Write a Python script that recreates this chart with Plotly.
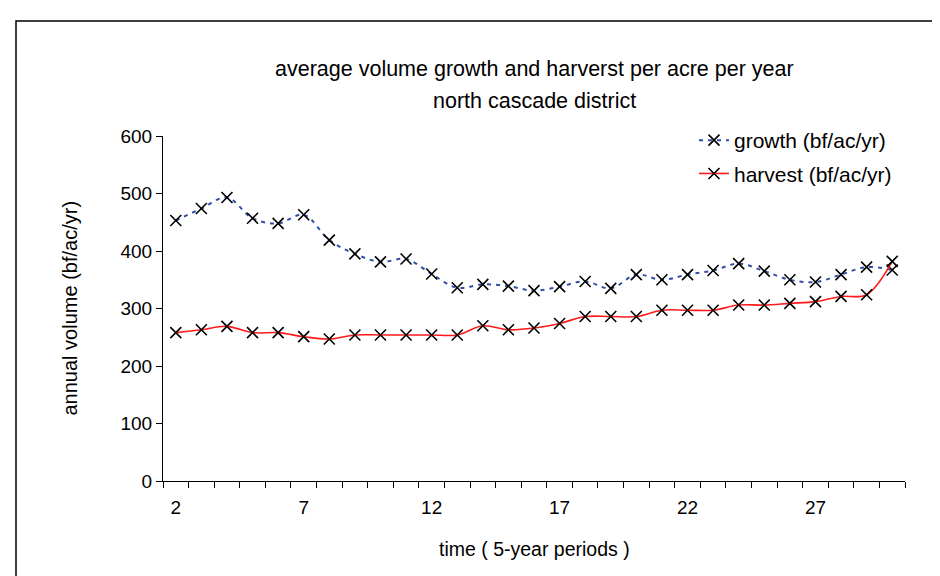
import plotly.graph_objects as go

periods = list(range(2, 31))
growth = [453, 474, 493, 457, 448, 463, 419, 395, 381, 386, 360, 336, 342, 339, 331,
          338, 347, 335, 359, 350, 359, 366, 378, 365, 350, 346, 359, 372, 367]
harvest = [258, 263, 269, 258, 258, 251, 247, 254, 254, 254, 254, 254, 270, 263, 266,
           274, 286, 286, 286, 297, 297, 297, 306, 306, 309, 312, 321, 324, 382]
x_tick_labels = [2, 7, 12, 17, 22, 27]
y_ticks = [0, 100, 200, 300, 400, 500, 600]

FONT = "Liberation Sans, Arial, sans-serif"
W, H = 940, 576
L, R, T, B = 155, 43, 128, 103
PW, PH = W - L - R, H - T - B


def px(xp):
    return (xp - L) / PW


def py(yp):
    return (H - B - yp) / PH


fig = go.Figure()
fig.add_trace(go.Scatter(
    x=periods, y=growth, name="growth (bf/ac/yr)", mode="lines+markers",
    line=dict(color="#2F4EA5", width=2, dash="4px,5px", shape="spline"),
    marker=dict(symbol="x-thin", size=11, color="black", line=dict(color="black", width=1.6)),
    legendgroup="g",
))
fig.add_trace(go.Scatter(
    x=periods, y=harvest, name="harvest (bf/ac/yr)", mode="lines+markers",
    line=dict(color="#FF1A1A", width=1.6, shape="spline"),
    marker=dict(symbol="x-thin", size=11, color="black", line=dict(color="black", width=1.6)),
    legendgroup="h",
))

fig.update_layout(
    width=W, height=H,
    margin=dict(l=L, r=R, t=T, b=B),
    paper_bgcolor="white", plot_bgcolor="white",
    font=dict(family=FONT, size=19, color="black"),
    showlegend=True,
    legend=dict(x=px(686), y=py(112), xanchor="left", yanchor="top",
                font=dict(size=21, color="black"), bgcolor="rgba(0,0,0,0)",
                itemwidth=30, traceorder="grouped", tracegroupgap=3),
    xaxis=dict(
        range=[1.5, 30.5], tickvals=x_tick_labels, ticktext=[str(v) for v in x_tick_labels],
        ticks="", showgrid=False, zeroline=False,
        showline=True, linecolor="black", linewidth=1,
        tickfont=dict(size=19), ticklabelstandoff=9,
        minor=dict(tickvals=[p - 0.5 for p in periods] + [30.5], ticks="outside",
                   ticklen=6, tickcolor="black", tickwidth=1, showgrid=False),
    ),
    yaxis=dict(
        range=[0, 600], tickvals=y_ticks, ticks="outside", ticklen=6,
        tickcolor="black", showgrid=False, zeroline=False,
        showline=True, linecolor="black", linewidth=1, tickfont=dict(size=19),
    ),
    shapes=[dict(type="rect", xref="paper", yref="paper",
                 x0=px(8), x1=px(938), y0=py(590), y1=py(13),
                 line=dict(color="black", width=1.5), layer="below")],
    annotations=[
        dict(text="average volume growth and harverst per acre per year", x=0.5, y=py(61),
             xanchor="center", yanchor="middle",
             xref="paper", yref="paper", showarrow=False, font=dict(size=21.5)),
        dict(text="north cascade district", x=0.5, y=py(93),
             xanchor="center", yanchor="middle",
             xref="paper", yref="paper", showarrow=False, font=dict(size=21.5)),
        dict(text="annual volume (bf/ac/yr)", x=px(61), y=0.5, textangle=-90,
             xanchor="center", yanchor="middle",
             xref="paper", yref="paper", showarrow=False, font=dict(size=20)),
        dict(text="time ( 5-year periods )", x=0.5, y=py(541),
             xanchor="center", yanchor="middle",
             xref="paper", yref="paper", showarrow=False, font=dict(size=19.5)),
    ],
)

fig.write_html("out.html")
